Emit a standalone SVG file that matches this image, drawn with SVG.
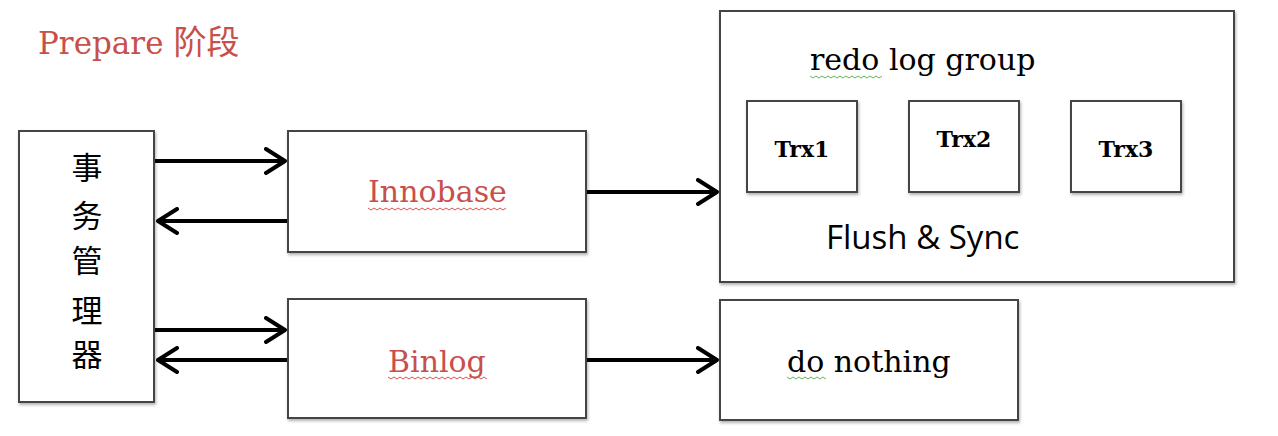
<svg xmlns="http://www.w3.org/2000/svg" width="1278" height="436" viewBox="0 0 1278 436">
<style>
.box{fill:#fff;stroke:#444;stroke-width:2;filter:url(#sh)}
.conn{stroke:#000;stroke-width:4;fill:none}
.serif{font-family:"DejaVu Serif","Liberation Serif",serif}
.red{fill:#c8504a}
.cjk{font-family:"Noto Sans CJK SC","Noto Sans CJK JP",sans-serif}
.wr{fill:none;stroke:#d9534f;stroke-width:1}
.wg{fill:none;stroke:#5cb85c;stroke-width:1}
</style>
<defs>
<filter id="sh" x="-10%" y="-10%" width="120%" height="120%">
<feDropShadow dx="1" dy="2" stdDeviation="1.5" flood-color="#000" flood-opacity="0.3"/>
</filter>
<marker id="ah" viewBox="0 0 24 28" refX="22" refY="14" markerWidth="24" markerHeight="28" markerUnits="userSpaceOnUse" orient="auto">
<path d="M2,2 L21,14 L2,26" fill="none" stroke="#000" stroke-width="4" stroke-linecap="round" stroke-linejoin="round"/>
</marker>
</defs>
<rect width="1278" height="436" fill="#fff"/>
<text id="title" x="38" y="54" font-size="31" class="red"><tspan class="serif">Prepare </tspan><tspan class="cjk" font-size="33">阶段</tspan></text>
<g id="connectors">
<line class="conn" x1="154" y1="161" x2="286" y2="161" marker-end="url(#ah)"/>
<line class="conn" x1="288" y1="221" x2="157" y2="221" marker-end="url(#ah)"/>
<line class="conn" x1="154" y1="330" x2="286" y2="330" marker-end="url(#ah)"/>
<line class="conn" x1="288" y1="360" x2="157" y2="360" marker-end="url(#ah)"/>
<line class="conn" x1="586" y1="192" x2="718" y2="192" marker-end="url(#ah)"/>
<line class="conn" x1="586" y1="360" x2="718" y2="360" marker-end="url(#ah)"/>
</g>
<g id="tm">
<rect class="box" x="19" y="131" width="135" height="271"/>
<g class="cjk" font-size="31" text-anchor="middle" fill="#000">
<text x="87" y="179">事</text>
<text x="87" y="227">务</text>
<text x="87" y="272">管</text>
<text x="87" y="322">理</text>
<text x="87" y="366">器</text>
</g>
</g>
<g id="innobase">
<rect class="box" x="288" y="131" width="298" height="121"/>
<text x="368" y="202" font-size="30" class="serif red">Innobase</text>
<path class="wr" d="M368,208 l3,2 l3,-2 l3,2 l3,-2 l3,2 l3,-2 l3,2 l3,-2 l3,2 l3,-2 l3,2 l3,-2 l3,2 l3,-2 l3,2 l3,-2 l3,2 l3,-2 l3,2 l3,-2 l3,2 l3,-2 l3,2 l3,-2 l3,2 l3,-2 l3,2 l3,-2 l3,2 l3,-2 l3,2 l3,-2 l3,2 l3,-2 l3,2 l3,-2 l3,2 l3,-2 l3,2 l3,-2 l3,2 l3,-2 l3,2 l3,-2 l3,2 l3,-2"/>
</g>
<g id="binlog">
<rect class="box" x="288" y="299" width="298" height="119"/>
<text x="388" y="372" font-size="30" class="serif red">Binlog</text>
<path class="wr" d="M388,377 l3,2 l3,-2 l3,2 l3,-2 l3,2 l3,-2 l3,2 l3,-2 l3,2 l3,-2 l3,2 l3,-2 l3,2 l3,-2 l3,2 l3,-2 l3,2 l3,-2 l3,2 l3,-2 l3,2 l3,-2 l3,2 l3,-2 l3,2 l3,-2 l3,2 l3,-2 l3,2 l3,-2 l3,2 l3,-2 l3,2"/>
</g>
<g id="redo">
<rect class="box" x="720" y="11" width="514" height="271"/>
<text x="810" y="70" font-size="30" class="serif" fill="#000">redo log group</text>
<path class="wg" d="M810,76 l3,2 l3,-2 l3,2 l3,-2 l3,2 l3,-2 l3,2 l3,-2 l3,2 l3,-2 l3,2 l3,-2 l3,2 l3,-2 l3,2 l3,-2 l3,2 l3,-2 l3,2 l3,-2 l3,2 l3,-2 l3,2 l3,-2"/>
<text x="826" y="249" font-size="33" font-family="Open Sans, sans-serif" fill="#000">Flush &amp; Sync</text>
</g>
<g id="trx1">
<rect class="box" x="747" y="101" width="110" height="91"/>
<text x="802" y="157" font-size="22" font-weight="bold" class="serif" text-anchor="middle" fill="#000">Trx1</text>
</g>
<g id="trx2">
<rect class="box" x="909" y="101" width="110" height="91"/>
<text x="964" y="147" font-size="22" font-weight="bold" class="serif" text-anchor="middle" fill="#000">Trx2</text>
</g>
<g id="trx3">
<rect class="box" x="1071" y="101" width="110" height="91"/>
<text x="1126" y="157" font-size="22" font-weight="bold" class="serif" text-anchor="middle" fill="#000">Trx3</text>
</g>
<g id="nothing">
<rect class="box" x="720" y="300" width="298" height="120"/>
<text x="787" y="372" font-size="30" class="serif" fill="#000">do nothing</text>
<path class="wg" d="M787,377 l3,2 l3,-2 l3,2 l3,-2 l3,2 l3,-2 l3,2 l3,-2 l3,2 l3,-2 l3,2 l3,-2 l3,2"/>
</g>
</svg>
